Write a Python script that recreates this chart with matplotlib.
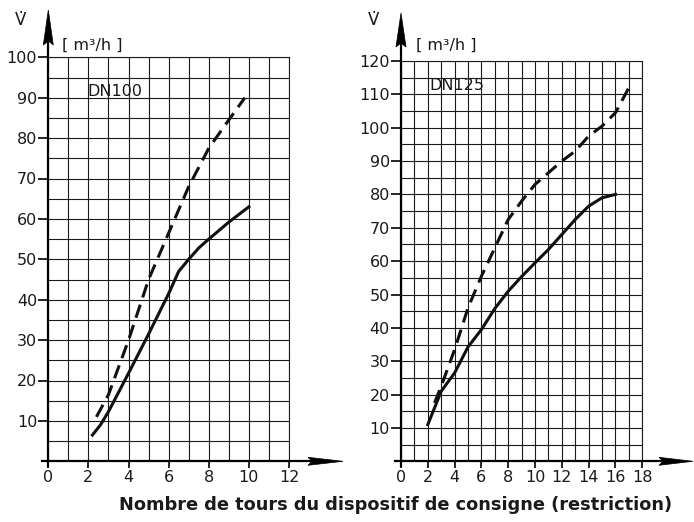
import matplotlib
matplotlib.use("Agg")
import matplotlib.pyplot as plt
from matplotlib.ticker import MultipleLocator
from matplotlib.patches import Polygon
from matplotlib.lines import Line2D

plt.rcParams['font.family'] = ['DejaVu Sans']

# ---- data ----
dn100_dash_x = [2.4, 3.0, 4.0, 5.0, 6.0, 7.0, 8.0, 9.0, 9.8]
dn100_dash_y = [11, 16.5, 30, 45, 56.5, 68, 77.5, 84.5, 90]
dn100_solid_x = [2.2, 2.6, 3.0, 4.0, 5.0, 6.0, 6.5, 7.0, 7.5, 8.0, 9.0, 10.0]
dn100_solid_y = [6.5, 9, 12.3, 21.8, 31.5, 41.5, 47, 50, 52.8, 55, 59.2, 63]

dn125_dash_x = [2.5, 3.0, 4.0, 5.0, 6.0, 7.0, 8.0, 9.0, 10.0, 11.0, 12.0, 13.0, 14.0, 15.0, 16.0, 17.0]
dn125_dash_y = [17.5, 22.5, 33.5, 46, 55.5, 64, 72.5, 78, 83, 86.5, 90, 93, 97.5, 100.5, 104.5, 112]
dn125_solid_x = [2.0, 3.0, 4.0, 5.0, 6.0, 7.0, 8.0, 9.0, 10.0, 11.0, 12.0, 13.0, 14.0, 15.0, 16.0]
dn125_solid_y = [11, 21, 26.5, 34.3, 39.5, 45.8, 51, 55.4, 59.5, 63.5, 68, 72.5, 76.5, 79, 80]

left_xticks = [0, 2, 4, 6, 8, 10, 12]
left_yticks = [10, 20, 30, 40, 50, 60, 70, 80, 90, 100]
right_xticks = [0, 2, 4, 6, 8, 10, 12, 14, 16, 18]
right_yticks = [10, 20, 30, 40, 50, 60, 70, 80, 90, 100, 110, 120]

W, H = 694, 522
fig = plt.figure(figsize=(W / 100, H / 100), dpi=100)
FS = 11.5
INK = '#1a1a1a'


def px(x, y):
    """figure pixel (from top-left) -> figure fraction"""
    return x / W, (H - y) / H


def arrow_axes(ax_x, ax_bot, ax_top, xaxis_start, xaxis_tip, yaxis_tip, head_len, half_w):
    # y axis shaft + head
    fig.add_artist(Line2D([ax_x / W, ax_x / W], [(H - (ax_bot + 5)) / H, (H - (yaxis_tip + head_len - 3)) / H],
                          transform=fig.transFigure, color='black', lw=1.6))
    tip = px(ax_x, yaxis_tip)
    bl = px(ax_x - half_w, yaxis_tip + head_len)
    notch = px(ax_x, yaxis_tip + head_len - 4)
    br = px(ax_x + half_w, yaxis_tip + head_len)
    fig.add_artist(Polygon([tip, bl, notch, br], closed=True, transform=fig.transFigure,
                           facecolor='black', edgecolor='black', lw=0.5))
    # x axis shaft + head
    fig.add_artist(Line2D([xaxis_start / W, (xaxis_tip - head_len + 3) / W], [(H - ax_bot) / H] * 2,
                          transform=fig.transFigure, color='black', lw=1.6))
    tip = px(xaxis_tip, ax_bot)
    bt = px(xaxis_tip - head_len, ax_bot - half_w + 1)
    notch = px(xaxis_tip - head_len + 4, ax_bot)
    bb = px(xaxis_tip - head_len, ax_bot + half_w - 1)
    fig.add_artist(Polygon([tip, bt, notch, bb], closed=True, transform=fig.transFigure,
                           facecolor='black', edgecolor='black', lw=0.5))


def make_axes(x0, x1, y_top, y_bot, xmax, ymax, xticks, yticks, name,
              dash_x, dash_y, solid_x, solid_y, vlabel_x, unit_x, name_xy):
    ax = fig.add_axes([x0 / W, (H - y_bot) / H, (x1 - x0) / W, (y_bot - y_top) / H])
    ax.set_xlim(0, xmax)
    ax.set_ylim(0, ymax)
    ax.xaxis.set_minor_locator(MultipleLocator(1))
    ax.yaxis.set_minor_locator(MultipleLocator(5))
    ax.set_xticks(xticks)
    ax.set_yticks(yticks)
    ax.grid(True, which='both', color=INK, lw=0.8)
    ax.set_axisbelow(True)
    for s in ['top', 'right']:
        ax.spines[s].set_color(INK)
        ax.spines[s].set_linewidth(0.8)
    for s in ['left', 'bottom']:
        ax.spines[s].set_visible(False)
    ax.tick_params(axis='x', which='major', direction='out', length=5, width=1.2,
                   labelsize=FS, pad=1, color='black', labelcolor=INK)
    ax.tick_params(axis='y', which='major', direction='out', length=7, width=1.2,
                   labelsize=FS, pad=1, color='black', labelcolor=INK)
    ax.tick_params(which='minor', length=0)
    ax.plot(dash_x, dash_y, color='#111111', lw=2.2, ls=(0, (4.5, 2.5)), clip_on=False,
            solid_capstyle='butt')
    ax.plot(solid_x, solid_y, color='#111111', lw=2.2, clip_on=False)
    ax.text(name_xy[0], name_xy[1], name, fontsize=FS, ha='left', va='center',
            transform=ax.transData, color=INK)
    fig.text(vlabel_x / W, (H - 20) / H, 'V\u0307', fontsize=12, ha='center', va='center',
             color=INK)
    fig.text(unit_x / W, (H - 45) / H, '[ m\u00b3/h ]', fontsize=FS, ha='left', va='center',
             color=INK)
    return ax


make_axes(48.3, 289.0, 57.3, 461.3, 12, 100, left_xticks, left_yticks, 'DN100',
          dn100_dash_x, dn100_dash_y, dn100_solid_x, dn100_solid_y, 21, 62, (1.95, 91.5))
make_axes(401.0, 642.3, 61.0, 461.3, 18, 120, right_xticks, right_yticks, 'DN125',
          dn125_dash_x, dn125_dash_y, dn125_solid_x, dn125_solid_y, 374, 416, (2.1, 112.8))

arrow_axes(48.3, 461.3, 57.3, 42, 343, 10, 35, 5)
arrow_axes(401.0, 461.3, 61.0, 395, 693, 13, 34, 5)

fig.text(396 / W, (H - 505) / H, 'Nombre de tours du dispositif de consigne (restriction)',
         fontsize=12.8, fontweight='bold', ha='center', va='center', color=INK)

fig.savefig('out.png', dpi=100)
